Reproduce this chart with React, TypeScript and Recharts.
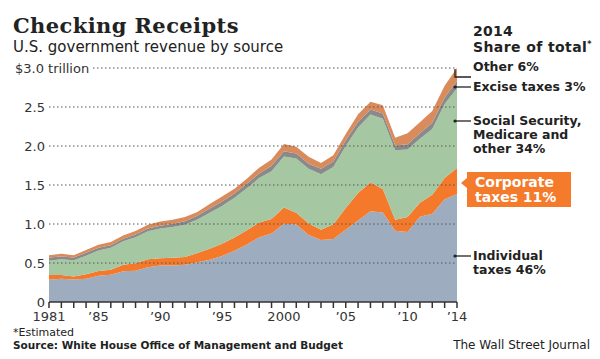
import React from 'react';
import { AreaChart, Area, XAxis, YAxis, ReferenceLine } from 'recharts';

const years = [1981,1982,1983,1984,1985,1986,1987,1988,1989,1990,1991,1992,1993,1994,1995,1996,1997,1998,1999,2000,2001,2002,2003,2004,2005,2006,2007,2008,2009,2010,2011,2012,2013,2014];
const individual = [0.286,0.298,0.289,0.298,0.335,0.349,0.393,0.401,0.446,0.467,0.468,0.476,0.510,0.543,0.590,0.656,0.737,0.829,0.879,1.004,0.994,0.858,0.794,0.809,0.927,1.044,1.163,1.146,0.915,0.899,1.092,1.132,1.316,1.386];
const corporate = [0.061,0.049,0.037,0.057,0.061,0.063,0.084,0.095,0.103,0.094,0.098,0.100,0.118,0.140,0.157,0.171,0.182,0.189,0.184,0.207,0.151,0.148,0.132,0.189,0.278,0.354,0.370,0.304,0.138,0.191,0.181,0.242,0.274,0.333];
const social = [0.183,0.201,0.209,0.239,0.265,0.283,0.303,0.334,0.359,0.380,0.396,0.414,0.429,0.461,0.484,0.509,0.539,0.572,0.612,0.653,0.694,0.701,0.713,0.733,0.794,0.838,0.870,0.900,0.891,0.865,0.819,0.845,0.948,1.021];
const excise = [0.041,0.036,0.035,0.037,0.036,0.033,0.032,0.035,0.034,0.035,0.042,0.046,0.048,0.055,0.057,0.054,0.057,0.058,0.071,0.069,0.066,0.067,0.068,0.070,0.073,0.074,0.065,0.067,0.062,0.067,0.072,0.079,0.084,0.093];
const other = [0.028,0.034,0.030,0.035,0.037,0.042,0.042,0.044,0.049,0.056,0.051,0.055,0.048,0.059,0.063,0.063,0.065,0.074,0.081,0.092,0.086,0.089,0.075,0.079,0.082,0.097,0.100,0.107,0.099,0.140,0.140,0.152,0.152,0.167];

const yTicks = [0, 0.5, 1, 1.5, 2, 2.5, 3];
const yLabels = ['0', '0.5', '1.0', '1.5', '2.0', '2.5', '$3.0 trillion'];
const gridValues = [0.5, 1, 1.5, 2, 2.5, 3];
const xLabelYears = [1981, 1985, 1990, 1995, 2000, 2005, 2010, 2014];
const xLabels = ['1981', '\u201985', '\u201990', '\u201995', '2000', '\u201905', '\u201910', '\u201914'];

const data = years.map((year, i) => ({
  year,
  individual: individual[i],
  corporate: corporate[i],
  social: social[i],
  excise: excise[i],
  other: other[i],
}));

const FONT = '"DejaVu Sans", sans-serif';

const XTick = (props: any) => {
  const { x, y, payload } = props;
  const idx = xLabelYears.indexOf(payload.value);
  if (idx < 0) return null;
  return (
    <text x={x} y={y} dy="0.71em" textAnchor="middle" fontFamily={FONT} fontSize={13} fill="#333">
      {xLabels[idx]}
    </text>
  );
};

const YTick = (props: any) => {
  const { x, y, payload } = props;
  const idx = yTicks.indexOf(payload.value);
  if (idx < 0) return null;
  if (payload.value === 3) {
    return (
      <g>
        <rect x={12} y={y - 8} width={81} height={16} fill="#fff" />
        <text x={15} y={y} dy="0.35em" textAnchor="start" fontFamily={FONT} fontSize={13} fill="#333">
          {yLabels[idx]}
        </text>
      </g>
    );
  }
  return (
    <text x={x} y={y} dy="0.35em" textAnchor="end" fontFamily={FONT} fontSize={13} fill="#333">
      {yLabels[idx]}
    </text>
  );
};

export default function App() {
  return (
    <div style={{ position: 'absolute', left: 0, top: 0, width: 600, height: 359, background: '#fff' }}>
      <AreaChart
        width={600}
        height={359}
        data={data}
        margin={{ top: 68, right: 143, bottom: 27, left: 0 }}
      >
        {gridValues.map((v) => (
          <ReferenceLine key={v} y={v} stroke="#555" strokeWidth={1} strokeDasharray="1.5 2.5" />
        ))}
        <XAxis
          dataKey="year"
          type="number"
          domain={[1981, 2014]}
          ticks={years}
          interval={0}
          height={30}
          tickSize={6}
          tickMargin={4}
          axisLine={{ stroke: '#333', strokeWidth: 1.5 }}
          tickLine={{ stroke: '#333', strokeWidth: 1.5 }}
          tick={<XTick />}
        />
        <YAxis
          type="number"
          domain={[0, 3]}
          ticks={yTicks}
          width={49}
          tickSize={0}
          tickMargin={4}
          axisLine={false}
          tickLine={false}
          tick={<YTick />}
        />
        <Area type="linear" dataKey="individual" stackId="1" stroke="none" fill="#9dadbf" fillOpacity={1} isAnimationActive={false} />
        <Area type="linear" dataKey="corporate" stackId="1" stroke="none" fill="#f5792a" fillOpacity={1} isAnimationActive={false} />
        <Area type="linear" dataKey="social" stackId="1" stroke="none" fill="#a5c7a1" fillOpacity={1} isAnimationActive={false} />
        <Area type="linear" dataKey="excise" stackId="1" stroke="none" fill="#8a8a8a" fillOpacity={1} isAnimationActive={false} />
        <Area type="linear" dataKey="other" stackId="1" stroke="none" fill="#d98b5b" fillOpacity={1} isAnimationActive={false} />
      </AreaChart>
      <svg width={600} height={359} style={{ position: 'absolute', left: 0, top: 0, pointerEvents: 'none' }}>
        <text x={13} y={33} fontFamily='"DejaVu Serif", serif' fontWeight="bold" fontSize={21} letterSpacing={0.4} fill="#222">Checking Receipts</text>
        <text x={13} y={52} fontFamily={FONT} fontSize={15} fill="#222">U.S. government revenue by source</text>

        <g fontFamily={FONT} fontWeight="bold" fill="#222">
          <text x={473} y={36} fontSize={14} letterSpacing={0.3}>2014</text>
          <text x={473} y={52} fontSize={14} letterSpacing={0.4}>Share of total<tspan fontSize={8} dy={-5}>*</tspan></text>
          <text x={473} y={71} fontSize={12.5}>Other 6%</text>
          <text x={473} y={91} fontSize={12.5}>Excise taxes 3%</text>
          <text x={473} y={125} fontSize={12.5}>Social Security,</text>
          <text x={473} y={139} fontSize={12.5}>Medicare and</text>
          <text x={473} y={153} fontSize={12.5}>other 34%</text>
          <text x={473} y={260} fontSize={12.5}>Individual</text>
          <text x={473} y={274} fontSize={12.5}>taxes 46%</text>
        </g>
        <g stroke="#222" strokeWidth={1.3} fill="none">
          <polyline points="455,69 455,77 471,77" />
          <line x1={455} y1={87} x2={471} y2={87} />
          <line x1={455} y1={121} x2={471} y2={121} />
          <line x1={455} y1={256} x2={471} y2={256} />
        </g>
        <g fill="#222">
          <circle cx={455} cy={87} r={1.6} />
          <circle cx={455} cy={121} r={1.6} />
          <circle cx={455} cy={256} r={1.6} />
        </g>
        <rect x={467} y={172} width={104} height={35} fill="#f47a2c" />
        <polygon points="461,183 467,178 467,188" fill="#f47a2c" />
        <g fontFamily={FONT} fontWeight="bold" fill="#fff" fontSize={14}>
          <text x={475} y={187}>Corporate</text>
          <text x={475} y={202}>taxes 11%</text>
        </g>

        <text x={13} y={336} fontFamily={FONT} fontSize={11} fill="#222">*Estimated</text>
        <text x={13} y={349} fontFamily={FONT} fontWeight="bold" fontSize={10.5} fill="#222">Source: White House Office of Management and Budget</text>
        <text x={590} y={349} textAnchor="end" fontFamily={FONT} fontSize={12} fill="#222">The Wall Street Journal</text>
      </svg>
    </div>
  );
}
